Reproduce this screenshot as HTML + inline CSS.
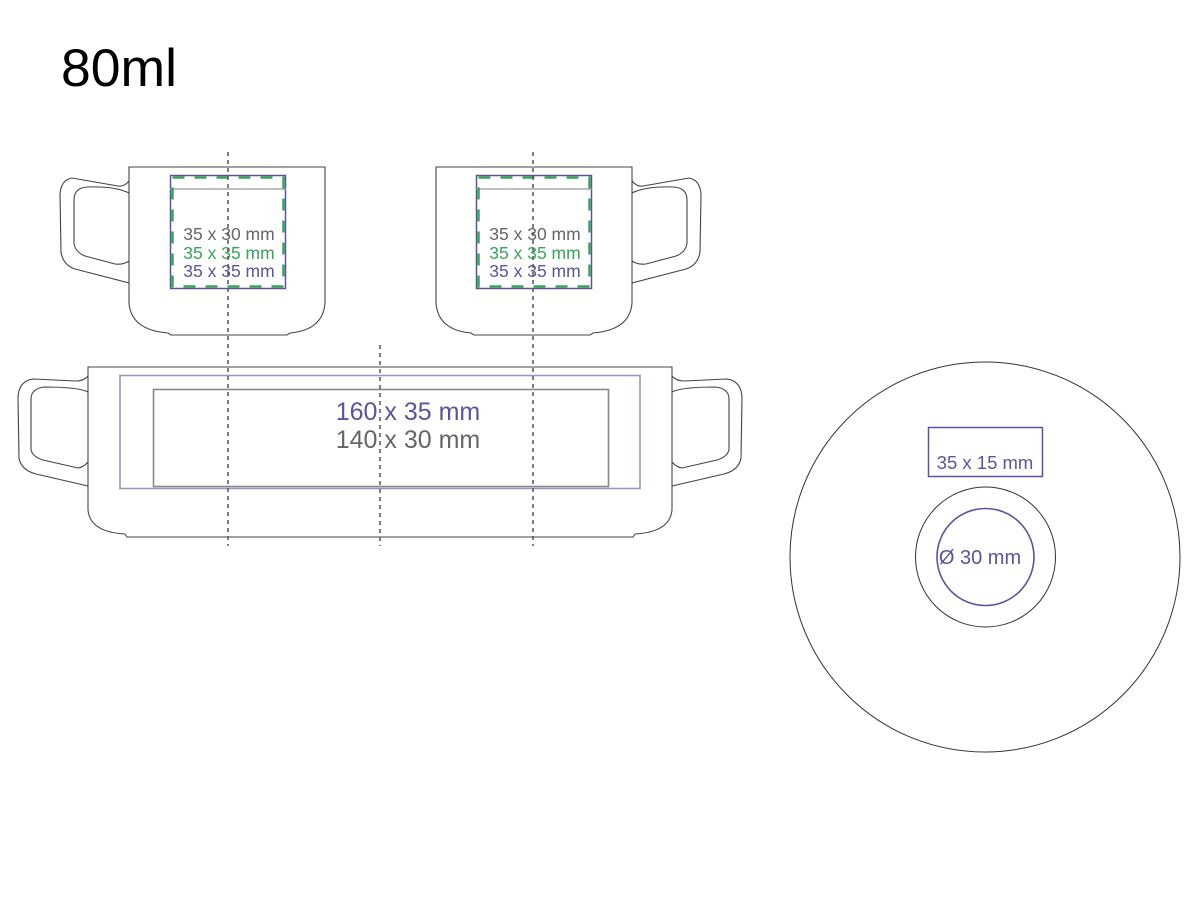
<!DOCTYPE html>
<html><head><meta charset="utf-8"><style>
html,body{margin:0;padding:0;background:#fff;}
svg{display:block;font-family:"Liberation Sans",Arial,sans-serif;}
</style></head><body>
<svg width="1200" height="900" viewBox="0 0 1200 900" xmlns="http://www.w3.org/2000/svg">
<rect width="1200" height="900" fill="#fff"/>
<text x="61" y="86" font-size="53" fill="#000" textLength="116" lengthAdjust="spacingAndGlyphs">80ml</text>

<defs>
<g id="mug" fill="none" stroke="#444" stroke-width="1.1">
  <path d="M129,167 L129,303 Q131,330 168,333 L171,335 L287,335 L290,333 Q323,330 325,303 L325,167 Z"/>
  <path d="M129,181 Q124,187 118,186 L72,178 Q61,180 60,194 L61,252 Q63,265 75,269 L129,283"/>
  <path d="M129,193 Q115,186 87,187 Q74,188 74,200 L74,243 Q75,252 85,256 L115,264 Q123,265 129,261"/>
</g>
<g id="bigL" fill="none" stroke="#444" stroke-width="1.1">
  <path d="M88,376 Q84,381 76,381 L33,379 Q19,381 18,397 L19,458 Q21,470 36,474 L88,486"/>
  <path d="M88,392 Q78,387 45,387 Q32,388 31,398 L31,450 Q33,457 43,460 L78,468 Q84,467 88,462"/>
</g>
</defs>

<use href="#mug"/>
<use href="#mug" transform="translate(761,0) scale(-1,1)"/>

<g>
  <rect x="170.5" y="175.5" width="115" height="113" fill="none" stroke="#5a559a" stroke-width="1.5"/>
  <line x1="170" y1="189" x2="286" y2="189" stroke="#999" stroke-width="1.2"/>
  <rect x="172.5" y="177.5" width="111" height="109" fill="none" stroke="#3aa35a" stroke-width="2.5" stroke-dasharray="12,10"/>
  <text x="229" y="240" font-size="17.5" fill="#666" text-anchor="middle">35 x 30 mm</text>
  <text x="229" y="259" font-size="17.5" fill="#3aa35a" text-anchor="middle">35 x 35 mm</text>
  <text x="229" y="277" font-size="17.5" fill="#5a559a" text-anchor="middle">35 x 35 mm</text>
</g>
<g>
  <rect x="476.5" y="175.5" width="115" height="113" fill="none" stroke="#5a559a" stroke-width="1.5"/>
  <line x1="476" y1="189" x2="592" y2="189" stroke="#999" stroke-width="1.2"/>
  <rect x="478.5" y="177.5" width="111" height="109" fill="none" stroke="#3aa35a" stroke-width="2.5" stroke-dasharray="12,10"/>
  <text x="535" y="240" font-size="17.5" fill="#666" text-anchor="middle">35 x 30 mm</text>
  <text x="535" y="259" font-size="17.5" fill="#3aa35a" text-anchor="middle">35 x 35 mm</text>
  <text x="535" y="277" font-size="17.5" fill="#5a559a" text-anchor="middle">35 x 35 mm</text>
</g>

<path d="M88,367 L88,510 Q90,532 125,534 L127,537 L633,537 L635,534 Q670,532 672,510 L672,367 Z" fill="none" stroke="#444" stroke-width="1.1"/>
<use href="#bigL"/>
<use href="#bigL" transform="translate(760,0) scale(-1,1)"/>
<rect x="120" y="375.5" width="520" height="113" fill="none" stroke="#9a96cc" stroke-width="1.6"/>
<rect x="153.5" y="389.5" width="455" height="97" fill="none" stroke="#888" stroke-width="1.6"/>
<text x="408" y="420" font-size="25" fill="#5a559a" text-anchor="middle">160 x 35 mm</text>
<text x="408" y="448" font-size="25" fill="#666" text-anchor="middle">140 x 30 mm</text>

<g stroke="#555" stroke-width="1.5" stroke-dasharray="4,4">
  <line x1="228" y1="152" x2="228" y2="546"/>
  <line x1="533" y1="152" x2="533" y2="546"/>
  <line x1="380" y1="345" x2="380" y2="546"/>
</g>

<circle cx="985" cy="557" r="195" fill="none" stroke="#333" stroke-width="1"/>
<circle cx="985.5" cy="557" r="70" fill="none" stroke="#333" stroke-width="1"/>
<circle cx="985.5" cy="557" r="48.5" fill="none" stroke="#5a559a" stroke-width="1.6"/>
<rect x="928.5" y="427.5" width="114" height="49" fill="none" stroke="#5a559a" stroke-width="1.5"/>
<text x="985" y="469" font-size="18.5" fill="#5a559a" text-anchor="middle">35 x 15 mm</text>
<text x="980" y="564" font-size="20" fill="#5a559a" text-anchor="middle">Ø 30 mm</text>
</svg>
</body></html>
